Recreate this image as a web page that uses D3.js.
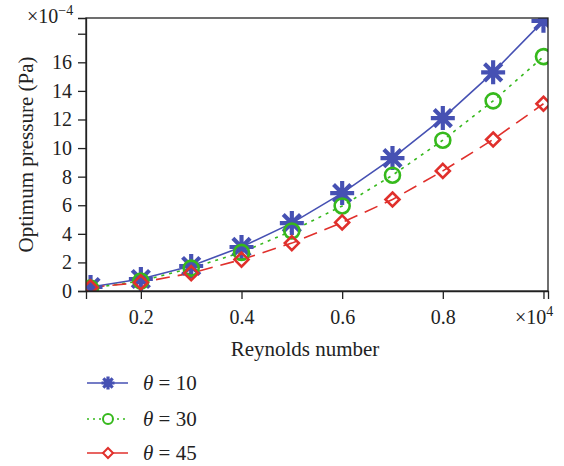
<!DOCTYPE html>
<html>
<head>
<meta charset="utf-8">
<script src="https://cdn.jsdelivr.net/npm/d3@7"></script>
<style>
  body { margin: 0; background: #fff; }
  svg text { font-family: "Liberation Serif", "DejaVu Serif", serif; fill: #222; }
</style>
</head>
<body>
<div id="chart"></div>
<script>
const reynolds = [0.1, 0.2, 0.3, 0.4, 0.5, 0.6, 0.7, 0.8, 0.9, 1.0];
const theta10 = [0.28, 0.84, 1.75, 3.08, 4.75, 6.85, 9.3, 12.1, 15.3, 18.9];
const theta30 = [0.2, 0.7, 1.6, 2.7, 4.2, 5.95, 8.1, 10.55, 13.3, 16.4];
const theta45 = [0.25, 0.6, 1.25, 2.2, 3.35, 4.8, 6.4, 8.4, 10.6, 13.1];
const xTicks = [0.2, 0.4, 0.6, 0.8, 1.0];
const yTicks = [0, 2, 4, 6, 8, 10, 12, 14, 16, 18];
const seriesNames = ["θ = 10", "θ = 30", "θ = 45"];

const width = 564, height = 466;
const margin = {top: 18, right: 16, bottom: 175, left: 86};
const innerW = width - margin.left - margin.right;
const innerH = height - margin.top - margin.bottom;

const svg = d3.select("#chart").append("svg")
    .attr("width", width)
    .attr("height", height);

svg.append("defs").append("clipPath").attr("id", "plot-clip")
    .append("rect").attr("width", innerW).attr("height", innerH);

const g = svg.append("g")
    .attr("transform", `translate(${margin.left},${margin.top})`);

const x = d3.scaleLinear().domain([0.091, 1.009]).range([0, innerW]);
const y = d3.scaleLinear().domain([0, 19.1]).range([innerH, 0]);

const xAxis = g.append("g")
    .attr("transform", `translate(0,${innerH})`)
    .call(d3.axisBottom(x).tickValues(xTicks).tickSize(8).tickPadding(11)
        .tickFormat(d => d === 1.0 ? "" : d3.format(".1f")(d)));
const yAxis = g.append("g")
    .call(d3.axisLeft(y).tickValues(yTicks).tickSize(8).tickPadding(6)
        .tickFormat(d => d === 18 ? "" : d));

[xAxis, yAxis].forEach(a => {
    a.select(".domain").attr("stroke", "#222").attr("stroke-width", 1.3);
    a.selectAll(".tick line").attr("stroke", "#222").attr("stroke-width", 1.3);
    a.selectAll(".tick text").attr("font-size", 20).attr("fill", "#222")
        .style("font-family", "Liberation Serif, serif");
});

// exponent labels
const xExp = svg.append("text").attr("x", 515).attr("y", 324).attr("font-size", 20);
xExp.append("tspan").text("×10");
xExp.append("tspan").attr("dy", -8).attr("font-size", 14).text("4");

const yExp = svg.append("text").attr("x", 27).attr("y", 23).attr("font-size", 20);
yExp.append("tspan").text("×10");
yExp.append("tspan").attr("dy", -8).attr("font-size", 14).text("−4");

// axis titles
svg.append("text")
    .attr("x", 305).attr("y", 356)
    .attr("text-anchor", "middle").attr("font-size", 21)
    .text("Reynolds number");
svg.append("text")
    .attr("transform", `translate(33,${margin.top + innerH / 2}) rotate(-90)`)
    .attr("text-anchor", "middle").attr("font-size", 21)
    .text("Optimum pressure (Pa)");

const styles = [
    {values: theta10, color: "#4651b3", dash: null, marker: "star", size: 12},
    {values: theta30, color: "#36b91c", dash: "3,5", marker: "circle", size: 7.5},
    {values: theta45, color: "#e0302c", dash: "14,8", marker: "diamond", size: 7}
];

function drawMarker(sel, type, s, color, sw) {
    if (type === "star") {
        const d = s * 0.72;
        const p = `M${-s},0L${s},0M0,${-s}L0,${s}M${-d},${-d}L${d},${d}M${-d},${d}L${d},${-d}`;
        sel.append("path").attr("d", p).attr("stroke", color)
            .attr("stroke-width", sw * 1.6).attr("fill", "none");
    } else if (type === "circle") {
        sel.append("circle").attr("r", s).attr("fill", "none")
            .attr("stroke", color).attr("stroke-width", sw);
    } else {
        sel.append("path").attr("d", `M0,${-s}L${s},0L0,${s}L${-s},0Z`)
            .attr("fill", "none").attr("stroke", color).attr("stroke-width", sw);
    }
}

const line = d3.line()
    .x((d, i) => x(reynolds[i]))
    .y(d => y(d));

const plot = g.append("g").attr("clip-path", "url(#plot-clip)");
styles.forEach(s => {
    plot.append("path")
        .datum(s.values)
        .attr("d", line)
        .attr("fill", "none")
        .attr("stroke", s.color)
        .attr("stroke-width", 1.6)
        .attr("stroke-dasharray", s.dash);
});
styles.forEach(s => {
    s.values.forEach((v, i) => {
        const m = plot.append("g")
            .attr("transform", `translate(${x(reynolds[i])},${y(v)})`);
        drawMarker(m, s.marker, s.size, s.color, 2.6);
    });
});

// frame
g.append("rect")
    .attr("width", innerW).attr("height", innerH)
    .attr("fill", "none").attr("stroke", "#222").attr("stroke-width", 1.3);

// legend
const legendY = [383, 419, 453];
const legendDash = [null, "2,4", null];
const legendSize = [6.5, 5, 5];
styles.forEach((s, i) => {
    const lg = svg.append("g").attr("transform", `translate(87,${legendY[i]})`);
    lg.append("line").attr("x1", 0).attr("x2", 41)
        .attr("stroke", s.color).attr("stroke-width", 1.6)
        .attr("stroke-dasharray", legendDash[i]);
    const m = lg.append("g").attr("transform", "translate(21,0)");
    m.append("circle").attr("r", legendSize[i] - 1).attr("fill", "#fff").attr("opacity", s.marker === "star" ? 0 : 1);
    drawMarker(m, s.marker, legendSize[i], s.color, 2);
    const t = lg.append("text").attr("x", 56).attr("y", 7).attr("font-size", 21);
    t.append("tspan").attr("font-style", "italic").text("θ");
    t.append("tspan").text(seriesNames[i].slice(1));
});
</script>
</body>
</html>
